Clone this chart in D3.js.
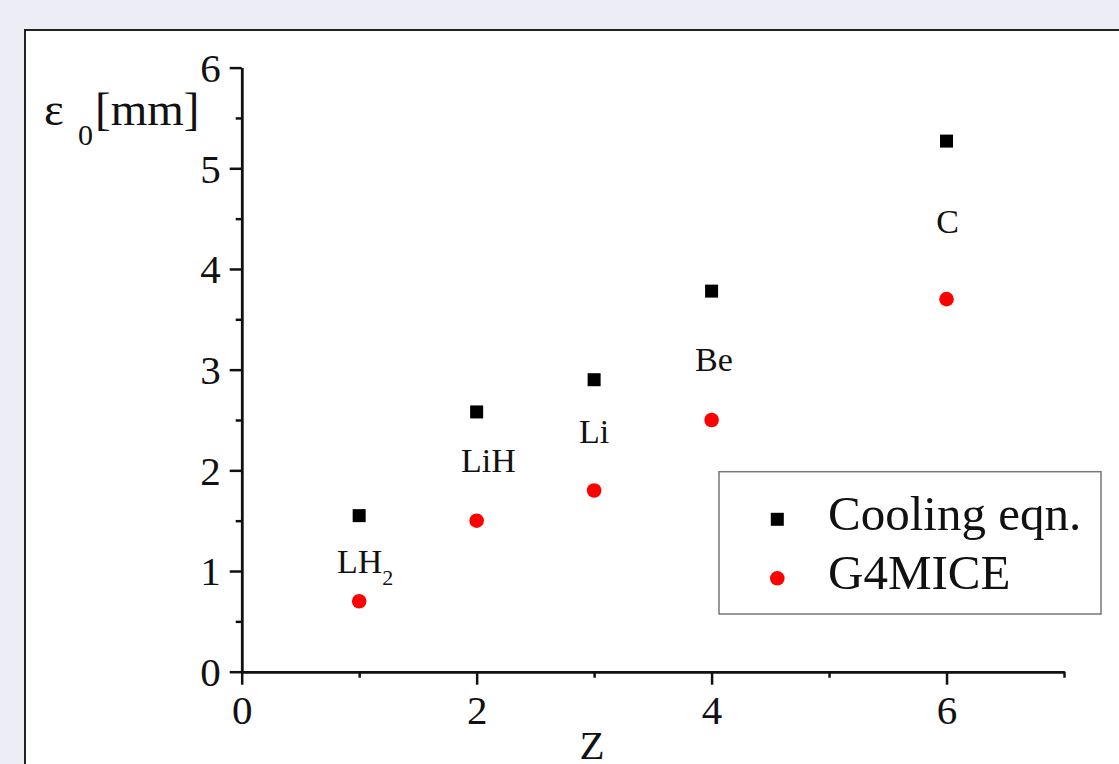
<!DOCTYPE html>
<html>
<head>
<meta charset="utf-8">
<script src="https://cdn.jsdelivr.net/npm/d3@7"></script>
<style>
  body { margin: 0; background: #ededf5; }
  svg { display: block; font-family: "Liberation Serif", "Times New Roman", serif; }
</style>
</head>
<body>
<svg id="chart" width="1119" height="764"></svg>
<script>
// Werte aus der Abbildung
const zValues = [1, 2, 3, 4, 6];
const coolingEqn = [1.55, 2.58, 2.9, 3.78, 5.27];
const g4mice = [0.7, 1.5, 1.8, 2.5, 3.7];

// Materialbeschriftungen (Position in Datenkoordinaten)
const materialNames = ["LH", "LiH", "Li", "Be", "C"];
const materialSubs = ["2", "", "", "", ""];
const labelZ = [1.05, 2.1, 3.0, 4.02, 6.01];
const labelY = [0.98, 1.98, 2.27, 2.99, 4.36];

const xMajor = [0, 2, 4, 6];
const xMinor = [1, 3, 5, 7];
const yMajor = [0, 1, 2, 3, 4, 5, 6];
const yMinor = [0.5, 1.5, 2.5, 3.5, 4.5, 5.5];

const seriesNames = ["Cooling eqn.", "G4MICE"];

const svg = d3.select("#chart");

// weißes Panel mit Rahmen
svg.append("rect")
    .attr("x", 25).attr("y", 30)
    .attr("width", 1200).attr("height", 800)
    .attr("fill", "#fff")
    .attr("stroke", "#222")
    .attr("stroke-width", 2);

const x = d3.scaleLinear().domain([0, 7]).range([241.7, 1064]);
const y = d3.scaleLinear().domain([0, 6]).range([671.7, 67.6]);

const axisColor = "#111";

// Nebenstriche
svg.append("g")
    .attr("transform", "translate(0,671.7)")
    .call(d3.axisBottom(x).tickValues(xMinor).tickSize(6).tickSizeOuter(0).tickFormat(""));
svg.append("g")
    .attr("transform", "translate(241.7,0)")
    .call(d3.axisLeft(y).tickValues(yMinor).tickSize(6).tickSizeOuter(0).tickFormat(""));

// Hauptstriche
const xAxis = svg.append("g")
    .attr("transform", "translate(0,671.7)")
    .call(d3.axisBottom(x).tickValues(xMajor).tickSize(13).tickSizeOuter(0)
        .tickPadding(10).tickFormat(d3.format("d")));
const yAxis = svg.append("g")
    .attr("transform", "translate(241.7,0)")
    .call(d3.axisLeft(y).tickValues(yMajor).tickSize(12).tickSizeOuter(0)
        .tickPadding(9).tickFormat(d3.format("d")));

svg.selectAll(".domain, .tick line")
    .attr("stroke", axisColor)
    .attr("stroke-width", 2.5);
svg.selectAll(".tick text")
    .attr("fill", "#111")
    .style("font-family", "Liberation Serif")
    .style("font-size", "41px");
yAxis.selectAll(".tick text").attr("dy", "0.34em");

// Achsentitel
svg.append("text")
    .attr("x", 592).attr("y", 759)
    .attr("text-anchor", "middle")
    .attr("fill", "#111")
    .style("font-size", "41px")
    .text("Z");

const yTitle = svg.append("text")
    .attr("y", 125)
    .attr("fill", "#111")
    .style("font-size", "47px");
yTitle.append("tspan").attr("x", 44).text("ε");
yTitle.append("tspan").attr("x", 78).attr("dy", 20)
    .style("font-size", "30px").text("0");
yTitle.append("tspan").attr("x", 95).attr("dy", -20).text("[mm]");

// Datenpunkte
svg.append("g").selectAll("rect")
    .data(zValues)
    .join("rect")
    .attr("x", (d) => x(d) - 6.5)
    .attr("y", (d, i) => y(coolingEqn[i]) - 6.5)
    .attr("width", 13).attr("height", 13)
    .attr("fill", "#000");

svg.append("g").selectAll("circle")
    .data(zValues)
    .join("circle")
    .attr("cx", (d) => x(d))
    .attr("cy", (d, i) => y(g4mice[i]))
    .attr("r", 7.3)
    .attr("fill", "#f00");

// Materialbeschriftungen
materialNames.forEach(function(name, i) {
    const t = svg.append("text")
        .attr("x", x(labelZ[i]))
        .attr("y", y(labelY[i]))
        .attr("text-anchor", "middle")
        .attr("fill", "#111")
        .style("font-size", "34px");
    t.append("tspan").text(name);
    if (materialSubs[i] !== "") {
        t.append("tspan").attr("dy", 12).style("font-size", "22px").text(materialSubs[i]);
    }
});

// Legende
svg.append("rect")
    .attr("x", 719).attr("y", 471.7)
    .attr("width", 382).attr("height", 142.3)
    .attr("fill", "#fff")
    .attr("stroke", "#777")
    .attr("stroke-width", 1.5);

svg.append("rect")
    .attr("x", 777.3 - 6.5).attr("y", 519.3 - 6.5)
    .attr("width", 13).attr("height", 13)
    .attr("fill", "#000");
svg.append("circle")
    .attr("cx", 777.3).attr("cy", 578.3)
    .attr("r", 7.3)
    .attr("fill", "#f00");

svg.append("g").selectAll("text")
    .data(seriesNames)
    .join("text")
    .attr("x", 828)
    .attr("y", (d, i) => 530 + i * 59)
    .attr("fill", "#111")
    .style("font-size", "49px")
    .text((d) => d);
</script>
</body>
</html>
